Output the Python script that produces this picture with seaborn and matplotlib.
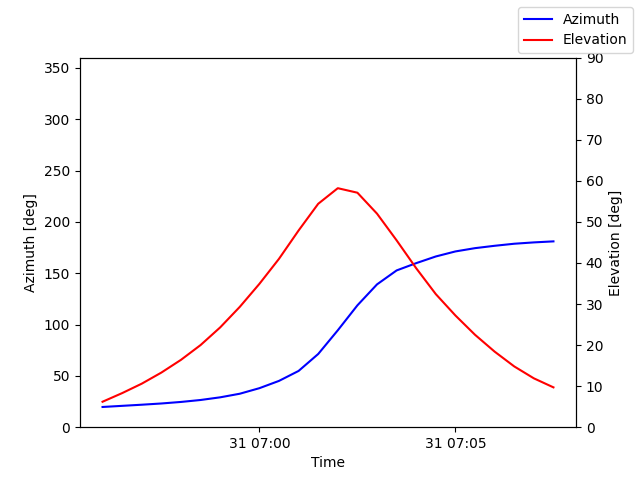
import numpy as np
import pandas as pd
import matplotlib
matplotlib.use("Agg")
import matplotlib.pyplot as plt
import matplotlib.dates as mdates
import seaborn as sns

# pass sampled every 30 s, 06:56:00 -> 07:07:30
times = pd.date_range("2024-01-31 06:56:00", "2024-01-31 07:07:30", freq="30s")

azimuth = [19.7, 20.8, 21.9, 23.1, 24.6, 26.5, 29.1, 32.6, 38.0, 45.1,
           54.8, 71.3, 94.4, 118.7, 139.1, 152.7, 159.8, 166.3, 171.2, 174.4,
           176.7, 178.7, 180.0, 181.0]
elevation = [6.2, 8.3, 10.6, 13.3, 16.4, 20.0, 24.3, 29.3, 34.9, 41.0,
             47.9, 54.4, 58.2, 57.1, 52.0, 45.5, 38.7, 32.4, 27.2, 22.5,
             18.4, 14.8, 11.9, 9.7]

df = pd.DataFrame({"Time": times, "Azimuth": azimuth, "Elevation": elevation})

fig, ax = plt.subplots(figsize=(6.4, 4.8), dpi=100)
ax2 = ax.twinx()

sns.lineplot(data=df, x="Time", y="Azimuth", ax=ax, color="blue", label="Azimuth", legend=False)
sns.lineplot(data=df, x="Time", y="Elevation", ax=ax2, color="red", label="Elevation", legend=False)

ax.set_ylim(0, 360)
ax2.set_ylim(0, 90)
ax2.set_yticks(range(0, 91, 10))
ax.set_xlabel("Time")
ax.set_ylabel("Azimuth [deg]")
ax2.set_ylabel("Elevation [deg]")

ax.xaxis.set_major_locator(mdates.MinuteLocator(byminute=range(0, 60, 5)))
ax.xaxis.set_major_formatter(mdates.DateFormatter("%d %H:%M"))

handles = ax.get_lines() + ax2.get_lines()
fig.legend(handles, [h.get_label() for h in handles], loc="upper right")

fig.savefig("out.png")
